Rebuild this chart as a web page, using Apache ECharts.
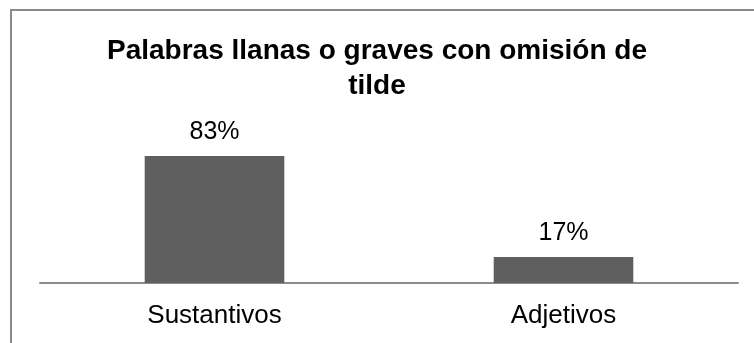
<!DOCTYPE html>
<html>
<head>
<meta charset="utf-8">
<script src="https://cdn.jsdelivr.net/npm/echarts@6/dist/echarts.min.js"></script>
<style>
  html, body { margin: 0; padding: 0; background: #fff; }
  #frame {
    position: absolute; left: 10px; top: 9px;
    width: 760px; height: 350px;
    border: 2px solid #8a8a8a; box-sizing: border-box;
  }
  #chart { position: absolute; left: 0; top: 0; width: 754px; height: 343px; }
</style>
</head>
<body>
<div id="frame"></div>
<div id="chart"></div>
<script>
// Chart content
const titleText = 'Palabras llanas o graves con omisión de\ntilde';
const categories = ['Sustantivos', 'Adjetivos'];
const percentages = [83, 17];

const FONT = '"Liberation Sans", Arial, sans-serif';

const chart = echarts.init(document.getElementById('chart'), null, { renderer: 'canvas' });
chart.setOption({
  backgroundColor: 'transparent',
  animation: false,
  title: {
    text: titleText,
    left: 'center',
    top: 29,
    textStyle: {
      fontFamily: FONT, fontSize: 28, fontWeight: 'bold',
      color: '#000', lineHeight: 35
    }
  },
  grid: { left: 40, right: 16, top: 130, bottom: 60, containLabel: false },
  xAxis: {
    type: 'category',
    data: categories,
    axisLine: { show: true, lineStyle: { color: '#8c8c8c', width: 2 } },
    axisTick: { show: false },
    axisLabel: { margin: 20, fontFamily: FONT, fontSize: 26, color: '#000' }
  },
  yAxis: {
    type: 'value', min: 0, max: 100,
    show: false,
    splitLine: { show: false }
  },
  series: [{
    type: 'bar',
    data: percentages,
    barWidth: '40%',
    itemStyle: { color: '#5f5f5f' },
    label: {
      show: true, position: 'top', distance: 11,
      formatter: p => p.value + '%',
      fontFamily: FONT, fontSize: 25, color: '#000'
    }
  }]
});
</script>
</body>
</html>
